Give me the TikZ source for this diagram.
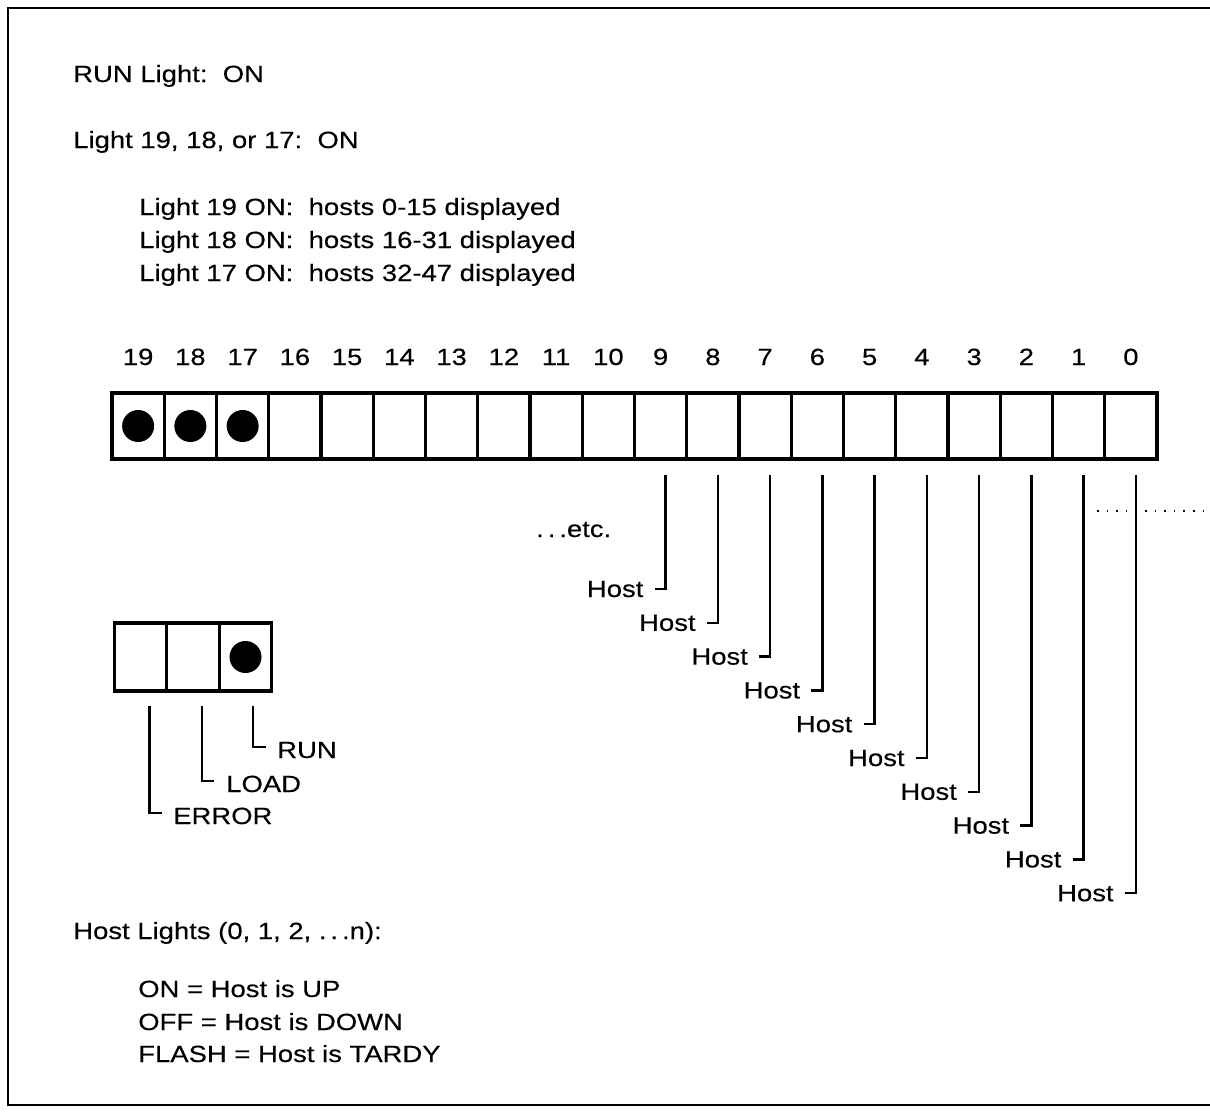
\documentclass[tikz,border=0pt]{standalone}
\usepackage{fontspec}
\setmainfont{Liberation Sans}[FakeStretch=1.17,FakeBold=0.3]
\usetikzlibrary{calc}
\begin{document}
\begin{tikzpicture}[x=0.75pt,y=-0.75pt,
  txt/.style={font=\fontsize{17.6}{21}\selectfont, inner sep=0pt, anchor=base west},
  num/.style={font=\fontsize{17.6}{21}\selectfont, inner sep=0pt, anchor=base},
  cell/.style={draw, line width=2.3pt, minimum width=39.19pt, minimum height=49.5pt, inner sep=0pt},
  scell/.style={draw, line width=2.3pt, minimum width=39.4pt, minimum height=51pt, inner sep=0pt},
  lamp/.style={circle, fill=black, minimum size=24pt, inner sep=0pt},
  wire/.style={line width=1.8pt},
  frame/.style={line width=1.5pt}]
\useasboundingbox (0,0) rectangle (1210,1118);
% frame
\draw[frame] (1210,8) -- (8,8) -- (8,1105) -- (1210,1105);

% header texts
\node[txt] (t1) at (73,82) {RUN Light:\ \ ON};
\node[txt] (t2) at (73,148) {Light 19, 18, or 17:\ \ ON};
\node[txt] (t3) at (139,215) {Light 19 ON:\ \ hosts 0-15 displayed};
\node[txt] (t4) at (139,248) {Light 18 ON:\ \ hosts 16-31 displayed};
\node[txt] (t5) at (139,281) {Light 17 ON:\ \ hosts 32-47 displayed};

% big light row
\foreach \n in {19,18,...,0} {
  \pgfmathsetmacro\cx{138.125+52.25*(19-\n)}
  \node[cell] (c\n) at (\cx,426) {};
  \node[num] (n\n) at (\cx,365) {\n};
}
\foreach \n in {19,18,17} \node[lamp] (l\n) at (c\n) {};

% host connectors
\node[txt] (etc) at (536,537) {.\,.\,.etc.};
\foreach \n in {9,8,...,0} {
  \pgfmathsetmacro\hx{143.125+52.25*(19-\n)-22}
  \pgfmathsetmacro\hy{597+33.8*(9-\n)}
  \node[txt, anchor=base east] (h\n) at (\hx,\hy) {Host};
  \draw[wire] ($(c\n.south)+(5,14)$) |- ($(h\n.east)+(11,0)$);
}
\draw[line width=1.2pt, dash pattern=on 1.2pt off 6pt] (1097,511) -- (1210,511);

% small status box
\node[scell] (s1) at (140.5,657) {};
\node[scell] (s2) at (193,657) {};
\node[scell] (s3) at (245.5,657) {};
\node[lamp] (srun) at (s3) {};
\node[txt] (lerr) at (173,824) {ERROR};
\node[txt] (lload) at (226,792) {LOAD};
\node[txt] (lrun) at (277,758) {RUN};
\draw[wire] ($(s1.south)+(9,13)$) |- ($(lerr.west)+(-11,-3)$);
\draw[wire] ($(s2.south)+(9,13)$) |- ($(lload.west)+(-12,-3)$);
\draw[wire] ($(s3.south)+(7.5,13)$) |- ($(lrun.west)+(-11,-3)$);

% legend
\node[txt] (b1) at (73,939) {Host Lights (0, 1, 2, .\,.\,.n):};
\node[txt] (b2) at (138,997) {ON = Host is UP};
\node[txt] (b3) at (138,1030) {OFF = Host is DOWN};
\node[txt] (b4) at (138,1062) {FLASH = Host is TARDY};
\end{tikzpicture}
\end{document}
